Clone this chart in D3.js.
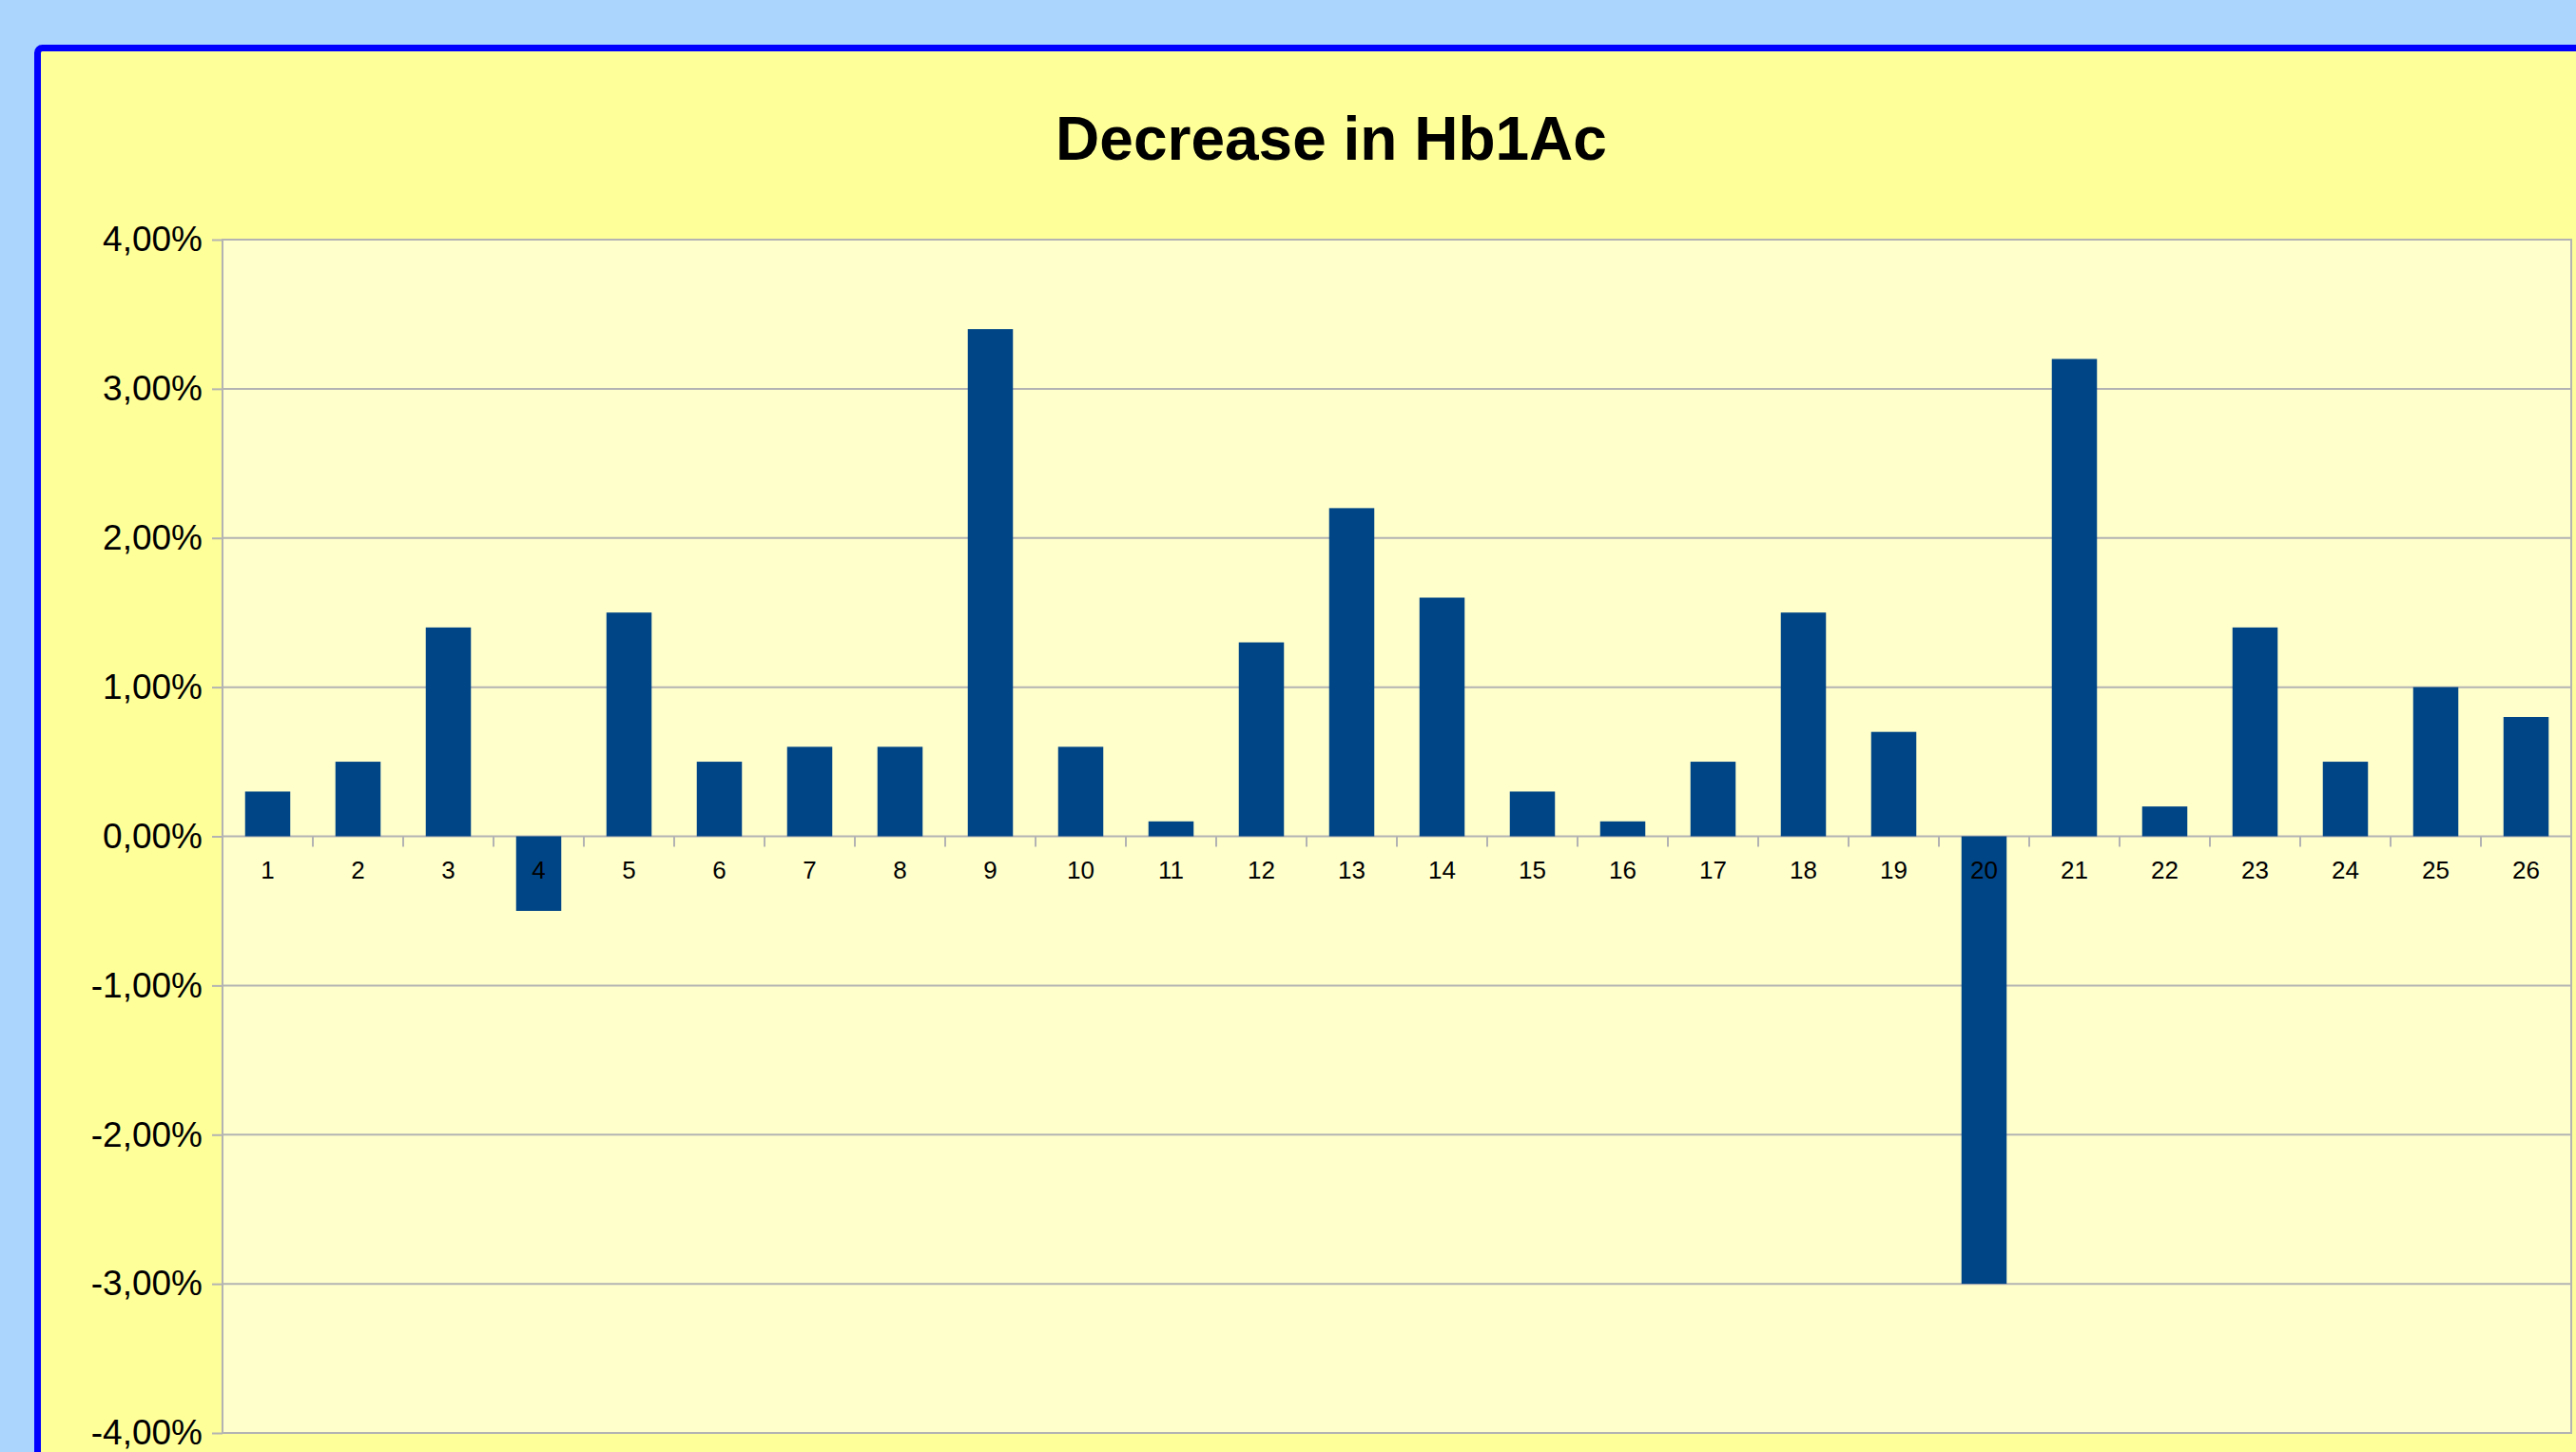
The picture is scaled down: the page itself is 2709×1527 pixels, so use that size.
<!DOCTYPE html>
<html>
<head>
<meta charset="utf-8">
<script src="https://cdn.jsdelivr.net/npm/d3@7"></script>
<style>
  html, body { margin: 0; padding: 0; background: #abd5fd; }
  svg { display: block; }
</style>
</head>
<body>
<div id="chart"></div>
<script>
const width = 2709;
const height = 1527;

// chart data
const title = "Decrease in Hb1Ac";
const categories = d3.range(1, 27).map(String);
const decrease = [0.3, 0.5, 1.4, -0.5, 1.5, 0.5, 0.6, 0.6, 3.4, 0.6, 0.1, 1.3, 2.2, 1.6, 0.3, 0.1, 0.5, 1.5, 0.7, -3.0, 3.2, 0.2, 1.4, 0.5, 1.0, 0.8];
const yTicks = [-4, -3, -2, -1, 0, 1, 2, 3, 4];

const plot = { left: 234, top: 252, right: 2704, bottom: 1507 };

const svg = d3.select("#chart").append("svg")
  .attr("width", width)
  .attr("height", height)
  .style("font-family", "'Liberation Sans', Arial, sans-serif");

svg.append("rect")
  .attr("width", width).attr("height", height)
  .attr("fill", "#abd5fd");

// yellow frame with blue border, runs off the page to the right and bottom
svg.append("rect")
  .attr("x", 39.5).attr("y", 50.5)
  .attr("width", width + 50).attr("height", height + 50)
  .attr("rx", 5)
  .attr("fill", "#ffff99")
  .attr("stroke", "#0000ff")
  .attr("stroke-width", 7);

svg.append("text")
  .attr("x", 1400).attr("y", 168)
  .attr("text-anchor", "middle")
  .attr("font-weight", "bold")
  .attr("font-size", 64)
  .attr("fill", "#000")
  .text(title);

const x = d3.scaleBand()
  .domain(categories)
  .range([plot.left, plot.right])
  .paddingInner(0.5)
  .paddingOuter(0.25);

const xBands = d3.scaleBand()
  .domain(categories)
  .range([plot.left, plot.right]);

const y = d3.scaleLinear()
  .domain([-4, 4])
  .range([plot.bottom, plot.top]);

svg.append("rect")
  .attr("x", plot.left).attr("y", plot.top)
  .attr("width", plot.right - plot.left)
  .attr("height", plot.bottom - plot.top)
  .attr("fill", "#ffffcc");

// y axis: ticks + labels
const yAxis = svg.append("g")
  .attr("transform", `translate(${plot.left},0)`)
  .call(d3.axisLeft(y)
    .tickValues(yTicks)
    .tickSize(11)
    .tickPadding(10)
    .tickFormat(d => d3.format(".2f")(d).replace(".", ",").replace("\u2212", "-") + "%"));
yAxis.select(".domain").remove();
yAxis.selectAll(".tick line").attr("stroke", "#b3b3b3").attr("stroke-width", 2);
yAxis.selectAll(".tick text")
  .attr("font-size", 37)
  .attr("fill", "#000")
  .attr("font-family", "'Liberation Sans', Arial, sans-serif");

// gridlines
svg.append("g")
  .selectAll("line")
  .data(yTicks)
  .join("line")
  .attr("x1", plot.left).attr("x2", plot.right)
  .attr("y1", d => y(d)).attr("y2", d => y(d))
  .attr("stroke", "#b3b3b3")
  .attr("stroke-width", 2);

// bars
svg.append("g")
  .selectAll("rect")
  .data(decrease)
  .join("rect")
  .attr("x", (d, i) => x(categories[i]))
  .attr("width", x.bandwidth())
  .attr("y", d => y(Math.max(0, d)))
  .attr("height", d => Math.abs(y(d) - y(0)))
  .attr("fill", "#004586");

// plot border
svg.append("rect")
  .attr("x", plot.left).attr("y", plot.top)
  .attr("width", plot.right - plot.left)
  .attr("height", plot.bottom - plot.top)
  .attr("fill", "none")
  .attr("stroke", "#b3b3b3")
  .attr("stroke-width", 2);

// category axis at zero
svg.append("g")
  .selectAll("line")
  .data(categories.slice(1))
  .join("line")
  .attr("x1", d => xBands(d)).attr("x2", d => xBands(d))
  .attr("y1", y(0)).attr("y2", y(0) + 11)
  .attr("stroke", "#b3b3b3")
  .attr("stroke-width", 2);

svg.append("g")
  .selectAll("text")
  .data(categories)
  .join("text")
  .attr("x", d => xBands(d) + xBands.bandwidth() / 2)
  .attr("y", y(0) + 44)
  .attr("text-anchor", "middle")
  .attr("font-size", 26)
  .attr("fill", "#000")
  .text(d => d);
</script>
</body>
</html>
